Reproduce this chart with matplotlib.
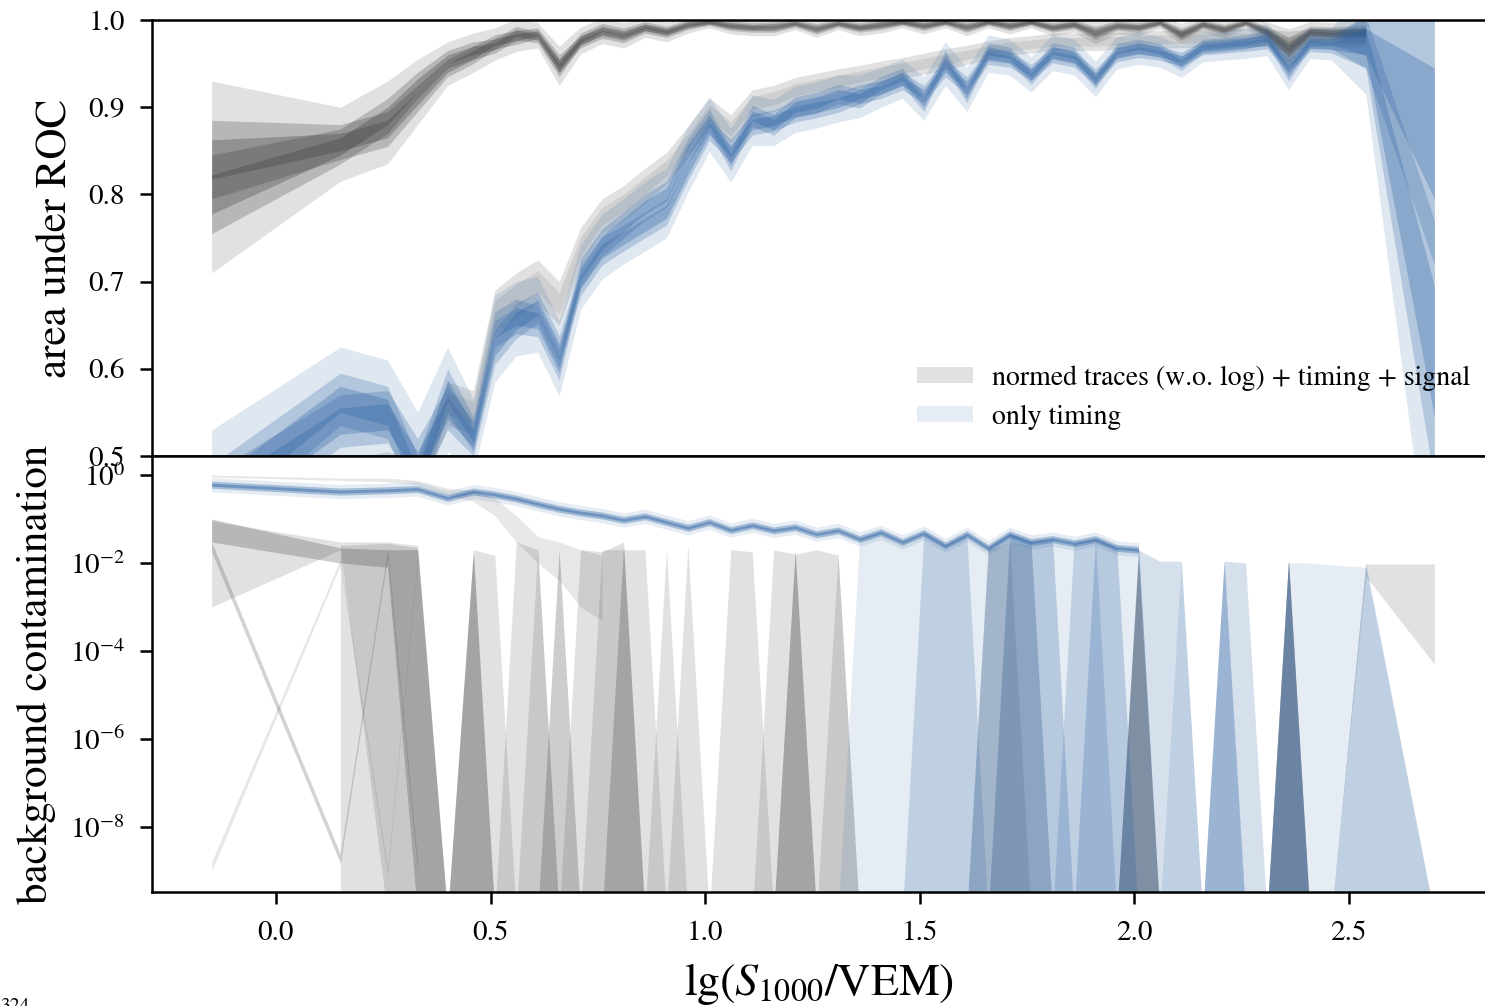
"""
AUC and background contamination versus lg(S1000/VEM) for two input sets.
"""

import numpy as np
import matplotlib.pyplot as plt
from matplotlib.patches import Patch

plt.rcParams['font.family'] = ['STIXGeneral', 'DejaVu Serif']
plt.rcParams['mathtext.fontset'] = 'stix'

nan = np.nan

# bin positions in lg(S1000/VEM)
lg_s1000 = [-0.15, 0.15, 0.26, 0.33, 0.40, 0.46,
            0.51, 0.56, 0.61, 0.66, 0.71, 0.76,
            0.81, 0.86, 0.91, 0.96, 1.01, 1.06,
            1.11, 1.16, 1.21, 1.26, 1.31, 1.36,
            1.41, 1.46, 1.51, 1.56, 1.61, 1.66,
            1.71, 1.76, 1.81, 1.86, 1.91, 1.96,
            2.01, 2.06, 2.11, 2.16, 2.21, 2.26,
            2.31, 2.36, 2.41, 2.46, 2.54, 2.70]

# --- area under ROC, normed traces + timing + signal (two runs + spread)
grey_auc_a = [0.840, 0.860, 0.875, 0.910, 0.945, 0.960,
              0.975, 0.980, 0.985, 0.950, 0.975, 0.985,
              0.980, 0.990, 0.985, 0.993, 0.997, 0.992,
              0.990, 0.990, 0.995, 0.988, 0.995, 0.990,
              0.993, 0.997, 0.992, 0.997, 0.990, 0.997,
              0.992, 0.997, 0.990, 0.994, 0.983, 0.992,
              0.990, 0.996, 0.982, 0.994, 0.988, 0.996,
              0.985, 0.962, 0.985, 0.983, 0.985, nan]
grey_auc_b = [0.800, 0.855, 0.890, 0.925, 0.955, 0.965,
              0.970, 0.985, 0.980, 0.945, 0.978, 0.990,
              0.985, 0.993, 0.988, 0.996, 0.998, 0.995,
              0.993, 0.994, 0.997, 0.992, 0.997, 0.993,
              0.996, 0.998, 0.995, 0.998, 0.994, 0.998,
              0.995, 0.998, 0.993, 0.996, 0.988, 0.995,
              0.993, 0.998, 0.986, 0.996, 0.991, 0.998,
              0.988, 0.970, 0.988, 0.987, 0.988, nan]
grey_auc_spread = [0.045, 0.020, 0.020, 0.015, 0.010, 0.010,
                   0.008, 0.008, 0.006, 0.010, 0.007, 0.006,
                   0.006, 0.005, 0.005, 0.004, 0.003, 0.004,
                   0.004, 0.004, 0.003, 0.004, 0.003, 0.004,
                   0.004, 0.003, 0.004, 0.003, 0.004, 0.003,
                   0.004, 0.003, 0.004, 0.004, 0.005, 0.004,
                   0.004, 0.003, 0.005, 0.004, 0.004, 0.003,
                   0.005, 0.010, 0.005, 0.005, 0.006, nan]
# one weaker run of the same input set
grey_auc_weak = [0.450, 0.470, 0.480, 0.470, 0.560, 0.550,
                 0.665, 0.685, 0.700, 0.675, 0.740, 0.775,
                 0.790, 0.810, 0.830, 0.860, 0.895, 0.875,
                 0.905, 0.910, 0.920, 0.925, 0.930, 0.935,
                 0.940, 0.945, 0.950, 0.955, 0.960, 0.965,
                 0.970, 0.972, 0.975, 0.975, 0.975, 0.976,
                 0.977, 0.978, 0.978, 0.979, 0.980, 0.980,
                 0.980, 0.975, 0.980, 0.980, 0.980, nan]
grey_auc_weak_spread = [0.025, 0.025, 0.025, 0.025, 0.025, 0.025,
                        0.025, 0.025, 0.025, 0.025, 0.022, 0.020,
                        0.020, 0.020, 0.018, 0.018, 0.016, 0.016,
                        0.015, 0.015, 0.014, 0.014, 0.014, 0.013,
                        0.013, 0.012, 0.012, 0.012, 0.011, 0.011,
                        0.010, 0.010, 0.010, 0.010, 0.010, 0.010,
                        0.010, 0.010, 0.010, 0.010, 0.010, 0.010,
                        0.010, 0.012, 0.010, 0.010, 0.010, nan]

# --- area under ROC, only timing
blue_auc_a = [0.450, 0.565, 0.550, 0.470, 0.575, 0.525,
              0.645, 0.660, 0.655, 0.605, 0.710, 0.745,
              0.765, 0.785, 0.800, 0.850, 0.885, 0.840,
              0.890, 0.880, 0.900, 0.905, 0.915, 0.910,
              0.925, 0.935, 0.905, 0.955, 0.915, 0.965,
              0.960, 0.935, 0.965, 0.960, 0.930, 0.965,
              0.970, 0.965, 0.950, 0.970, 0.972, 0.975,
              0.980, 0.940, 0.975, 0.975, 0.975, 0.870]
blue_auc_b = [0.440, 0.540, 0.545, 0.490, 0.555, 0.520,
              0.625, 0.655, 0.670, 0.620, 0.700, 0.735,
              0.750, 0.765, 0.780, 0.830, 0.875, 0.850,
              0.880, 0.885, 0.895, 0.900, 0.905, 0.915,
              0.920, 0.930, 0.915, 0.945, 0.925, 0.958,
              0.955, 0.940, 0.960, 0.955, 0.935, 0.960,
              0.965, 0.962, 0.955, 0.968, 0.970, 0.972,
              0.975, 0.950, 0.972, 0.970, 0.975, 0.620]
blue_auc_spread = [0.040, 0.030, 0.030, 0.030, 0.025, 0.020,
                   0.020, 0.020, 0.018, 0.018, 0.016, 0.016,
                   0.015, 0.015, 0.015, 0.014, 0.013, 0.013,
                   0.012, 0.012, 0.012, 0.012, 0.011, 0.011,
                   0.010, 0.010, 0.010, 0.010, 0.010, 0.009,
                   0.009, 0.009, 0.009, 0.009, 0.009, 0.008,
                   0.008, 0.008, 0.008, 0.008, 0.008, 0.008,
                   0.008, 0.010, 0.008, 0.008, 0.030, 0.150]

# --- background contamination, only timing (0 = no contamination)
blue_bg_mid = [0.60, 0.42, 0.45, 0.48, 0.30, 0.42,
               0.36, 0.29, 0.22, 0.17, 0.14, 0.12,
               0.095, 0.115, 0.085, 0.063, 0.085, 0.056,
               0.072, 0.055, 0.065, 0.045, 0.055, 0.035,
               0.050, 0.030, 0.048, 0.025, 0.045, 0.022,
               0.045, 0.030, 0.035, 0.028, 0.035, 0.022,
               0.020, 0, 0, 0, 0, 0,
               0, 0, 0, 0, 0, 0]
# runs whose lower band edge reaches zero
blue_bg_z1 = [0, 0, 0, 0, 0, 0,
              0, 0, 0, 0, 0, 0,
              0, 0, 0, 0, 0, 0,
              0, 0, 0, 0, 0, 0.035,
              0.050, 0.030, 0.048, 0.025, 0.045, 0.022,
              0.045, 0.030, 0.035, 0.028, 0.035, 0.022,
              0.020, 0, 0.011, 0, 0.011, 0,
              0, 0.010, 0.010, 0.009, 0.008, 0]
blue_bg_z2 = [0, 0, 0, 0, 0, 0,
              0, 0, 0, 0, 0, 0,
              0, 0, 0, 0, 0, 0,
              0, 0, 0, 0, 0, 0,
              0, 0, 0.048, 0.025, 0.045, 0,
              0.045, 0.030, 0, 0.028, 0.035, 0,
              0.020, 0.011, 0.011, 0, 0.011, 0.010,
              0, 0.011, 0, 0, 0.010, 0]
blue_bg_z3 = [0, 0, 0, 0, 0, 0,
              0, 0, 0, 0, 0, 0,
              0, 0, 0, 0, 0, 0,
              0, 0, 0, 0, 0, 0,
              0, 0, 0, 0, 0, 0.022,
              0.045, 0.030, 0.035, 0, 0.035, 0.022,
              0, 0, 0, 0, 0.011, 0,
              0, 0.011, 0, 0, 0, 0]

# --- background contamination, normed traces + timing + signal
grey_bg_hi1 = [0.100, 0.022, 0.020, 0.020, 0, 0.018,
               0, 0, 0, 0.020, 0, 0,
               0.025, 0, 0, 0, 0, 0,
               0, 0, 0.018, 0, 0, 0,
               0, 0, 0, 0, 0, 0,
               0, 0, 0, 0, 0, 0,
               0.015, 0, 0, 0, 0, 0,
               0, 0.012, 0, 0, 0, 0]
grey_bg_lo1 = [0.030, 0.010, 0.008, 0, 0, 0,
               0, 0, 0, 0, 0, 0,
               0, 0, 0, 0, 0, 0,
               0, 0, 0, 0, 0, 0,
               0, 0, 0, 0, 0, 0,
               0, 0, 0, 0, 0, 0,
               0, 0, 0, 0, 0, 0,
               0, 0, 0, 0, 0, 0]
grey_bg_hi2 = [nan, 0.025, 0.028, 0.022, 0, 0.020,
               0.015, 0, 0.020, 0, 0.020, 0.018,
               0.030, 0, 0.020, 0, 0, 0.020,
               0.018, 0, 0.020, 0, 0.015, 0,
               0, 0, 0, 0, 0, 0,
               0.030, 0, 0, 0, 0, 0,
               0.012, 0, 0, 0, 0, 0,
               0, 0.011, 0, 0, 0.0095, 0.0095]
grey_bg_lo2 = [nan, 0, 0, 0, 0, 0,
               0, 0, 0, 0, 0, 0,
               0, 0, 0, 0, 0, 0,
               0, 0, 0, 0, 0, 0,
               0, 0, 0, 0, 0, 0,
               0, 0, 0, 0, 0, 0,
               0, 0, 0, 0, 0, 0,
               0, 0, 0, 0, 0.005, 0.00005]
grey_bg_hi3 = [0.090, 0.030, 0.030, 0.025, 0, 0.018,
               0, 0.030, 0.020, 0, 0, 0.020,
               0.020, 0.020, 0, 0.025, 0, 0,
               0, 0.020, 0.016, 0.020, 0.015, 0,
               0, 0, 0, 0, 0, 0.020,
               0.030, 0.025, 0, 0, 0, 0,
               0.012, 0, 0, 0, 0, 0,
               0, 0.011, 0, 0, 0, 0]
grey_bg_lo3 = [0.001, 0.020, 0, 0, 0, 0,
               0, 0, 0, 0, 0, 0,
               0, 0, 0, 0, 0, 0,
               0, 0, 0, 0, 0, 0,
               0, 0, 0, 0, 0, 0,
               0, 0, 0, 0, 0, 0,
               0, 0, 0, 0, 0, 0,
               0, 0, 0, 0, 0, 0]
# thin slivers in the first bins
grey_bg_hi4 = [0.030, 2.4e-9, 0.020, 1.6e-9] + [nan] * 44
grey_bg_lo4 = [0.018, 1.5e-9, 0.014, 1e-9] + [nan] * 44
grey_bg_hi5 = [1.6e-9, 0.012, 1.2e-9, 0.015] + [nan] * 44
grey_bg_lo5 = [1e-9, 0.009, 8e-10, 0.011] + [nan] * 44
# weaker run, close to the timing-only curve at low signal
grey_bg_hi_weak = [1.00, 0.85, 0.85, 0.75, 0.50, 0.45,
                   0.30, 0.12, 0.040, 0.030, 0.020, 0.015] + [nan] * 36
grey_bg_lo_weak = [0.90, 0.75, 0.70, 0.60, 0.35, 0.25,
                   0.12, 0.030, 0.010, 0.004, 0.001, 0.0005] + [nan] * 36

GREY = '#3a3a3a'
BLUE = '#2e64a4'
FLOOR = 1e-10


def band(ax, lo, hi, color, alpha):
    ax.fill_between(lg_s1000, lo, hi, color=color, alpha=alpha, lw=0)


def auc_bundle(ax, run_a, run_b, spread, color):
    a = np.array(run_a)
    b = np.array(run_b)
    s = np.array(spread)
    band(ax, np.minimum(a, b) - 2 * s, np.maximum(a, b) + 2 * s, color, 0.15)
    band(ax, a - s, a + s, color, 0.25)
    band(ax, b - s, b + s, color, 0.25)
    band(ax, a - s / 2, a + s / 2, color, 0.3)
    band(ax, b - s / 2, b + s / 2, color, 0.3)


def floored(values):
    v = np.array(values, dtype=float)
    return np.where(v > 0, v, np.where(np.isnan(v), nan, FLOOR))


fig = plt.figure(figsize=(14.85, 10.06), dpi=100)
ax_auc = fig.add_axes([152 / 1485, 1 - 456 / 1006, 1 - 152 / 1485, 436 / 1006])
ax_bg = fig.add_axes([152 / 1485, 1 - 892 / 1006, 1 - 152 / 1485, 436 / 1006],
                     sharex=ax_auc)

# top panel
auc_bundle(ax_auc, grey_auc_a, grey_auc_b, grey_auc_spread, GREY)
w = np.array(grey_auc_weak)
ws = np.array(grey_auc_weak_spread)
band(ax_auc, w - ws, w + ws, GREY, 0.15)
band(ax_auc, w - ws / 2, w + ws / 2, GREY, 0.1)
auc_bundle(ax_auc, blue_auc_a, blue_auc_b, blue_auc_spread, BLUE)

# bottom panel
for hi, lo, alpha in [(grey_bg_hi1, grey_bg_lo1, 0.25),
                      (grey_bg_hi2, grey_bg_lo2, 0.15),
                      (grey_bg_hi3, grey_bg_lo3, 0.15),
                      (grey_bg_hi4, grey_bg_lo4, 0.22),
                      (grey_bg_hi5, grey_bg_lo5, 0.12),
                      (grey_bg_hi_weak, grey_bg_lo_weak, 0.12)]:
    band(ax_bg, floored(lo), floored(hi), GREY, alpha)

for z, alpha in [(blue_bg_z1, 0.12), (blue_bg_z2, 0.2), (blue_bg_z3, 0.25)]:
    band(ax_bg, floored([0] * len(z)), floored(z), BLUE, alpha)

m = np.array(blue_bg_mid, dtype=float)
band(ax_bg, floored(m / 1.45), floored(m * 1.45), BLUE, 0.12)
band(ax_bg, floored(m / 1.2), floored(m * 1.2), BLUE, 0.35)
band(ax_bg, floored(m / 1.08), floored(m * 1.08), BLUE, 0.45)

# axes styling
for ax in (ax_auc, ax_bg):
    ax.spines['right'].set_visible(False)
    for sp in ('top', 'bottom', 'left'):
        ax.spines[sp].set_linewidth(1.8)
    ax.tick_params(axis='both', which='major', direction='out', length=8.5,
                   width=1.8, labelsize=21, pad=11)
    ax.tick_params(axis='both', which='minor', length=0)

ax_auc.set_xlim(-0.289, 2.818)
ax_auc.set_ylim(0.5, 1.0)
ax_auc.set_yticks([0.5, 0.6, 0.7, 0.8, 0.9, 1.0])
ax_auc.set_yticklabels(['0.5', '0.6', '0.7', '0.8', '0.9', '1.0'])
ax_auc.tick_params(axis='x', bottom=False, labelbottom=False)
ax_auc.set_ylabel('area under ROC', fontsize=31, labelpad=10)

ax_bg.set_yscale('log')
ax_bg.set_ylim(3.33e-10, 2.7)
ax_bg.set_yticks([1, 1e-2, 1e-4, 1e-6, 1e-8])
ax_bg.set_xticks([0.0, 0.5, 1.0, 1.5, 2.0, 2.5])
ax_bg.set_xticklabels(['0.0', '0.5', '1.0', '1.5', '2.0', '2.5'])
ax_bg.tick_params(axis='x', pad=12)
ax_bg.set_ylabel('background contamination', fontsize=31, labelpad=10)
ax_bg.set_xlabel(r'lg($S_{1000}$/VEM)', fontsize=33, labelpad=11)

handles = [Patch(facecolor=GREY, alpha=0.15, lw=0),
           Patch(facecolor=BLUE, alpha=0.12, lw=0)]
ax_auc.legend(handles, ['normed traces (w.o. log) + timing + signal', 'only timing'],
              loc='lower right', bbox_to_anchor=(0.989, 0.06), frameon=False,
              fontsize=20, handlelength=2.0, handleheight=0.55, handletextpad=0.7,
              labelspacing=0.5, borderaxespad=0, borderpad=0)

fig.text(0.0, 0.0, '324', fontsize=14, va='center', ha='left')

plt.savefig('out.png', dpi=100)
